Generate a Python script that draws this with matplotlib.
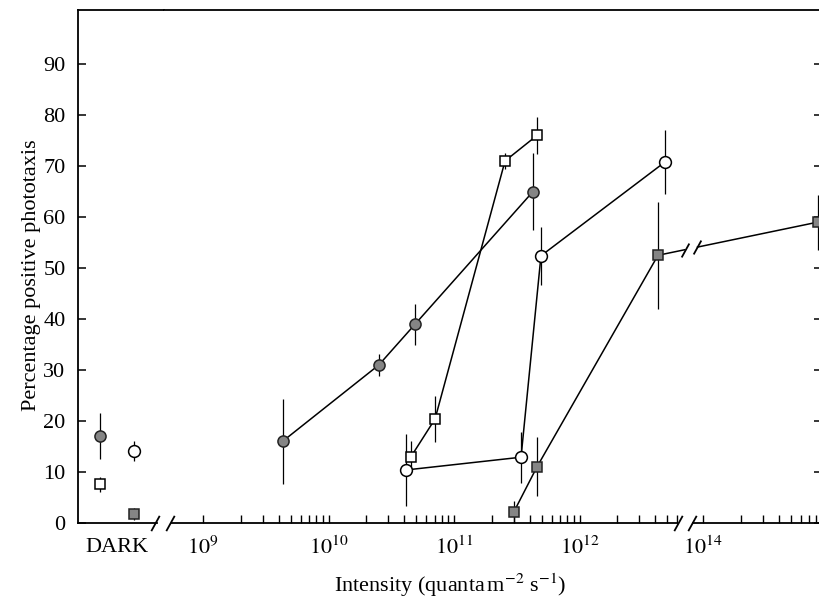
import numpy as np
import matplotlib
matplotlib.use("Agg")
import matplotlib.pyplot as plt
from matplotlib.ticker import FixedLocator, FixedFormatter, NullFormatter

plt.rcParams['font.family'] = 'serif'
plt.rcParams['font.serif'] = ['Liberation Serif', 'DejaVu Serif']
plt.rcParams['mathtext.fontset'] = 'stix'

# ---------------- data ----------------
dark_label = 'DARK'
dark_columns = [0, 1]            # two control columns in the DARK panel

# series A : filled circles
a_x = [4.3e9, 2.52e10, 4.9e10, 4.26e11]
a_y = [16.0, 31.0, 39.0, 65.0]
a_err = [8.3, 2.2, 4.0, 7.5]
a_dark = (0, 17.0, 4.5)          # column, value, error

# series B : open squares
b_x = [4.54e10, 7.06e10, 2.55e11, 4.58e11]
b_y = [13.0, 20.4, 71.0, 76.0]
b_err = [3.0, 4.5, 1.5, 3.7]
b_dark = (0, 7.6, 1.5)

# series C : open circles
c_x = [4.15e10, 3.42e11, 4.93e11, 4.8e12]
c_y = [10.4, 12.9, 52.4, 70.8]
c_err = [7.0, 5.0, 5.7, 6.3]
c_dark = (1, 14.1, 2.0)

# series D : filled squares (last point beyond the axis break)
d_x = [3.0e11, 4.58e11, 4.22e12, 8.2e14]
d_y = [2.2, 11.0, 52.5, 59.0]
d_err = [2.2, 5.8, 10.5, 5.4]
d_dark = (1, 1.8, 1.2)

y_ticks = [0, 10, 20, 30, 40, 50, 60, 70, 80, 90]
major_ticks = [1e9, 1e10, 1e11, 1e12, 1e14]
major_labels = [r'$10^{9}$', r'$10^{10}$', r'$10^{11}$', r'$10^{12}$', r'$10^{14}$']
minor_ticks = ([k * 10.0 ** n for n in (9, 10, 11) for k in range(2, 10)]
               + [k * 1e12 for k in range(2, 7)]
               + [k * 1e14 for k in range(2, 9)])

# ---------------- broken log scale ----------------
B1, SHIFT, S = 12.84, 1.016, 0.02
B2 = B1 + SHIFT / (1 - S)
U2 = B2 - SHIFT


def fwd(x):
    x = np.asarray(x, dtype=float)
    l = np.log10(np.where(x > 0, x, 1e-300))
    return np.where(l <= B1, l, np.where(l >= B2, l - SHIFT, B1 + (l - B1) * S))


def inv(u):
    u = np.asarray(u, dtype=float)
    l = np.where(u <= B1, u, np.where(u >= U2, u + SHIFT, B1 + (u - B1) / S))
    return 10.0 ** np.clip(l, -300, 300)


X_MIN, X_MAX = 4.89e8, 8.87e14

# ---------------- figure ----------------
W, H = 820.0, 602.0
fig = plt.figure(figsize=(W / 100, H / 100), dpi=100)
bot, hgt = (H - 523) / H, 513 / H
ax_dark = fig.add_axes([78 / W, bot, 86 / W, hgt])
ax_main = fig.add_axes([164 / W, bot, 658 / W, hgt])

FS = 16
LW_SPINE = 1.3
for ax in (ax_dark, ax_main):
    ax.set_ylim(0, 100.6)
    for sp in ax.spines.values():
        sp.set_linewidth(LW_SPINE)

# styles
filled = dict(mfc='#858585', mec='#222222')
opened = dict(mfc='white', mec='black')
styles = {
    'A': dict(marker='o', ms=8, mew=1.1, **filled),
    'B': dict(marker='s', ms=7.5, mew=1.1, **opened),
    'C': dict(marker='o', ms=8.5, mew=1.1, **opened),
    'D': dict(marker='s', ms=7.5, mew=1.1, **filled),
}
LINE_KW = dict(color='black', lw=1.1)
ERR_KW = dict(fmt='none', ecolor='black', elinewidth=0.9, capsize=0)

# ----- DARK panel -----
ax_dark.set_xlim(-0.647, 1.882)
for key, (col, val, err) in zip('ABCD', (a_dark, b_dark, c_dark, d_dark)):
    ax_dark.errorbar([col], [val], yerr=[err], zorder=2, **ERR_KW)
    ax_dark.plot([col], [val], ls='none', zorder=3, **styles[key])

ax_dark.spines['right'].set_visible(False)
ax_dark.spines['bottom'].set_bounds(-0.647, 1.676)
ax_dark.set_xticks([0.5])
ax_dark.set_xticklabels([dark_label])
ax_dark.tick_params(axis='x', length=0, labelsize=FS, pad=11)
ax_dark.set_yticks(y_ticks)
ax_dark.set_yticklabels([str(v) for v in y_ticks])
ax_dark.tick_params(axis='y', direction='in', length=5.5, width=1.1,
                    labelsize=FS, pad=9)
ax_dark.set_ylabel('Percentage positive phototaxis', fontsize=FS)
ax_dark.yaxis.set_label_coords(-0.43, 0.483)

# ----- main panel -----
ax_main.set_xscale('function', functions=(fwd, inv))
ax_main.set_xlim(X_MIN, X_MAX)
ax_main.xaxis.set_major_locator(FixedLocator(major_ticks))
ax_main.xaxis.set_major_formatter(FixedFormatter(major_labels))
ax_main.xaxis.set_minor_locator(FixedLocator(minor_ticks))
ax_main.xaxis.set_minor_formatter(NullFormatter())
ax_main.tick_params(axis='x', which='both', direction='in', length=6,
                    width=1.0, labelsize=FS, pad=10)
ax_main.set_yticks(y_ticks)
ax_main.tick_params(axis='y', left=False, right=True, labelleft=False,
                    direction='in', length=5.5, width=1.1)
ax_main.spines['left'].set_visible(False)
ax_main.spines['bottom'].set_visible(False)

# bottom spine segments with a break
xt = ax_main.get_xaxis_transform()
for x0, x1 in [(5.6e8, 6.1e12), (8.2e13, X_MAX)]:
    ax_main.plot([x0, x1], [0, 0], transform=xt, color='black',
                 lw=LW_SPINE, clip_on=False, solid_capstyle='butt')

slash = [(-0.55, -1.0), (0.55, 1.0)]
brk = dict(marker=slash, markersize=11, linestyle='none', color='black',
           mec='black', mew=1.3, clip_on=False, zorder=5)
ax_dark.plot([1.62], [0], transform=ax_dark.get_xaxis_transform(), **brk)
ax_main.plot([5.41e8, 6.04e12, 8.24e13], [0, 0, 0], transform=xt, **brk)

# series A, B, C
for key, xs, ys, es in (('A', a_x, a_y, a_err), ('B', b_x, b_y, b_err),
                        ('C', c_x, c_y, c_err)):
    ax_main.errorbar(xs, ys, yerr=es, zorder=2, **ERR_KW)
    ax_main.plot(xs, ys, zorder=2.5, **LINE_KW)
    ax_main.plot(xs, ys, ls='none', zorder=3, **styles[key])

# series D with a break in the last segment
ax_main.errorbar(d_x, d_y, yerr=d_err, zorder=2, **ERR_KW)
u3, u4 = float(fwd(d_x[2])), float(fwd(d_x[3]))
UB, GAP, SL = 12.888, 0.052, 0.045


def y_on(u):
    return d_y[2] + (d_y[3] - d_y[2]) * (u - u3) / (u4 - u3)


xL, xR = float(inv(UB - GAP)), float(inv(UB + GAP))
ax_main.plot(d_x[:3] + [xL], d_y[:3] + [y_on(UB - GAP)], zorder=2.5, **LINE_KW)
ax_main.plot([xR, d_x[3]], [y_on(UB + GAP), d_y[3]], zorder=2.5, **LINE_KW)
ax_main.plot([float(inv(UB - SL)), float(inv(UB + SL))],
             [y_on(UB - SL), y_on(UB + SL)],
             **dict(brk, markersize=10, clip_on=True))
ax_main.plot(d_x, d_y, ls='none', zorder=3, **styles['D'])

# x label centred under the whole frame
fig.text((78 + 822) / 2 / W, 10 / H,
         r'Intensity (quanta$\,$m$^{-2}$ s$^{-1}$)',
         ha='center', va='baseline', fontsize=FS)

fig.savefig('out.png', dpi=100)
